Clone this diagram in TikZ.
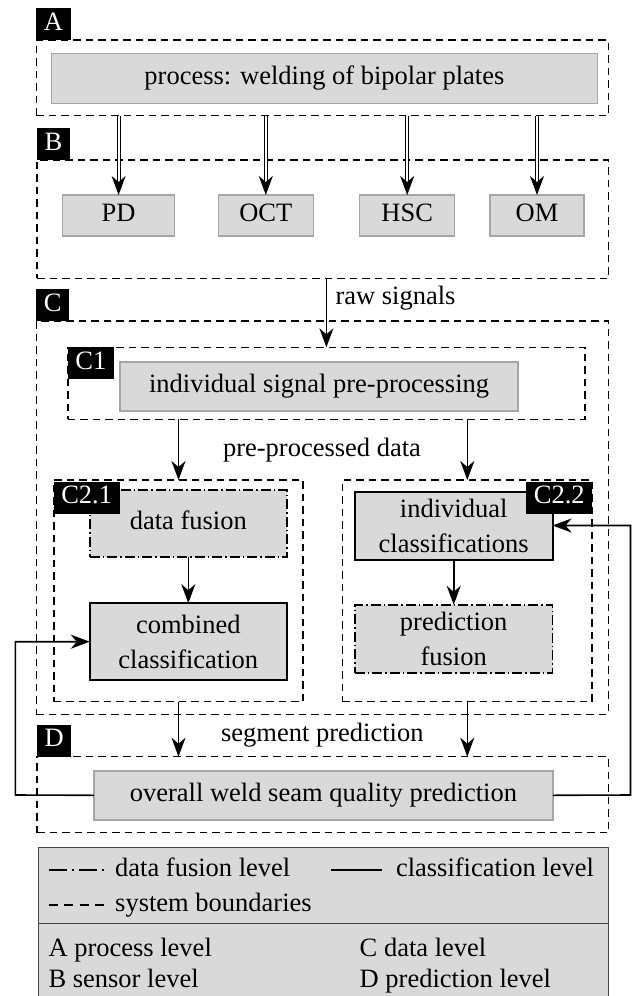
\documentclass[tikz,border=0pt]{standalone}
\usepackage{fontspec}
\newfontfamily\weldfont{Liberation Serif}
\definecolor{boxgray}{RGB}{217,217,217}
\definecolor{edgegray}{RGB}{166,166,166}
\definecolor{legendedge}{RGB}{70,70,70}
\usetikzlibrary{arrows.meta,positioning,fit}

\begin{document}
\begin{tikzpicture}[x=1pt,y=-1pt,
    font=\weldfont\fontsize{26.5}{35}\selectfont,
    every node/.style={inner sep=0pt, outer sep=0pt},
    txt/.style={text height=18pt, text depth=6pt},
    levelbox/.style={draw, line width=1.5pt, dash pattern=on 7.5pt off 5pt},
    tagbox/.style={fill=black, text=white, txt, inner xsep=7.5pt, minimum height=32pt},
    procbox/.style={draw=edgegray, fill=boxgray, line width=1.5pt, align=center},
    classbox/.style={procbox, draw=black, line width=2pt},
    fusionbox/.style={procbox, draw=black, line width=1.8pt,
      dash pattern=on 10pt off 3pt on 1.5pt off 3pt},
    flow/.style={line width=1.6pt, -{Stealth[length=19pt,width=14pt,inset=6pt]}},
    rawflow/.style={double, double distance=2pt, line width=1pt,
      -{Stealth[length=19pt,width=14pt,inset=6pt]}}]
  \useasboundingbox (0,0) rectangle (633,996);
  \clip (0,0) rectangle (633,996);

  % level boundaries
  \node[levelbox, fit={(36.4,40) (608.3,115.7)}] (boxA) {};
  \node[levelbox, fit={(37,160) (608.3,278.3)}] (boxB) {};
  \node[levelbox, fit={(36.4,321) (608.3,714.3)}] (boxC) {};
  \node[levelbox, fit={(67.9,347.3) (584.9,419.3)}] (boxCi) {};
  \node[levelbox, fit={(53.8,480) (303.2,701.7)}] (boxCiiL) {};
  \node[levelbox, fit={(342.4,480) (592.2,701.7)}] (boxCiiR) {};
  \node[levelbox, fit={(37,756.7) (608.3,832.7)}] (boxD) {};

  % blocks
  \node[procbox, txt, minimum width=546pt, minimum height=50pt] (proc) at (324.4,78.3)
    {process: welding of bipolar plates};
  \node[procbox, txt, minimum width=112pt, minimum height=41pt] (pd) at (118.6,215.5) {PD};
  \node[procbox, txt, minimum width=95pt, minimum height=41pt] (oct) at (265.8,215.5) {OCT};
  \node[procbox, txt, minimum width=95pt, minimum height=41pt] (hsc) at (407.2,215.5) {HSC};
  \node[procbox, txt, minimum width=94pt, minimum height=41pt] (om) at (537,215.5) {OM};
  \node[procbox, txt, minimum width=398pt, minimum height=49pt] (prep) at (319.1,386.3)
    {individual signal pre-processing};
  \node[fusionbox, txt, minimum width=197pt, minimum height=67pt] (dfus) at (188.3,523.7)
    {data fusion};
  \node[classbox, minimum width=197pt, minimum height=77pt] (comb) at (188.3,641.7)
    {combined\\classification};
  \node[classbox, minimum width=197.6pt, minimum height=68pt] (indiv) at (453.7,525.5)
    {individual\\classifications};
  \node[fusionbox, minimum width=197.6pt, minimum height=68pt] (pfus) at (453.7,638.8)
    {prediction\\fusion};
  \node[procbox, txt, minimum width=459pt, minimum height=49pt] (overall) at (323.4,795.3)
    {overall weld seam quality prediction};

  % signal flow
  \foreach \s in {pd,oct,hsc,om}
    \draw[rawflow] (\s.north |- boxA.south) -- (\s.north);
  \draw[flow] (boxCi.north |- boxB.south) -- (boxCi.north);
  \node[txt, anchor=west] (rawlbl) at (335.5,298.3) {raw signals};
  \draw[flow] (boxCiiL.north |- boxCi.south) -- (boxCiiL.north);
  \draw[flow] (boxCiiR.north |- boxCi.south) -- (boxCiiR.north);
  \node[txt] (pplbl) at (322,450) {pre-processed data};
  \draw[flow] (dfus) -- (comb);
  \draw[flow] (indiv) -- (pfus);
  \draw[flow] (boxCiiL.south) -- (boxCiiL.south |- boxD.north);
  \draw[flow] (boxCiiR.south) -- (boxCiiR.south |- boxD.north);
  \node[txt] (seglbl) at (322.3,735) {segment prediction};
  \coordinate (backL) at (15.4,795);
  \coordinate (backR) at (630.5,795);
  \draw[flow] (overall.west) -- (backL) |- (comb.west);
  \draw[flow] (overall.east) -- (backR) |- (indiv.east);

  % level tags
  \node[tagbox, anchor=south west] (tagA) at (boxA.north west) {A};
  \node[tagbox, anchor=south west] (tagB) at (boxB.north west) {B};
  \node[tagbox, anchor=south west] (tagC) at (boxC.north west) {C};
  \node[tagbox, anchor=north west] (tagCi) at (boxCi.north west) {C1};
  \node[tagbox, anchor=north west] (tagCiiL) at ([yshift=-1.5pt]boxCiiL.north west) {C2.1};
  \node[tagbox, anchor=north east] (tagCiiR) at ([yshift=-1.5pt]boxCiiR.north east) {C2.2};
  \node[tagbox, anchor=south west] (tagD) at (boxD.north west) {D};

  % legend
  \node[draw=legendedge, fill=boxgray, line width=1.5pt, fit={(38.4,847.7) (608.3,1010)}] (legend) {};
  \draw[draw=legendedge, line width=1.5pt] (legend.west |- 0,923.3) -- (legend.east |- 0,923.3);
  \draw[line width=1.5pt, dash pattern=on 18pt off 5pt on 2pt off 5pt] (48.5,870) -- (108,870);
  \node[txt, anchor=west] (lgfus) at (115.2,870) {data fusion level};
  \draw[line width=2.5pt] (331.4,870) -- (382,870);
  \node[txt, anchor=west] (lgcls) at (396,870) {classification level};
  \draw[line width=1.5pt, dash pattern=on 9pt off 6.5pt] (48.5,905) -- (105,905);
  \node[txt, anchor=west] (lgsys) at (115.2,905) {system boundaries};
  \node[txt, anchor=west] (lvA) at (48.5,950) {A process level};
  \node[txt, anchor=west] (lvB) at (48.5,981.7) {B sensor level};
  \node[txt, anchor=west] (lvC) at (359.7,950) {C data level};
  \node[txt, anchor=west] (lvD) at (359.7,981.7) {D prediction level};
\end{tikzpicture}
\end{document}
